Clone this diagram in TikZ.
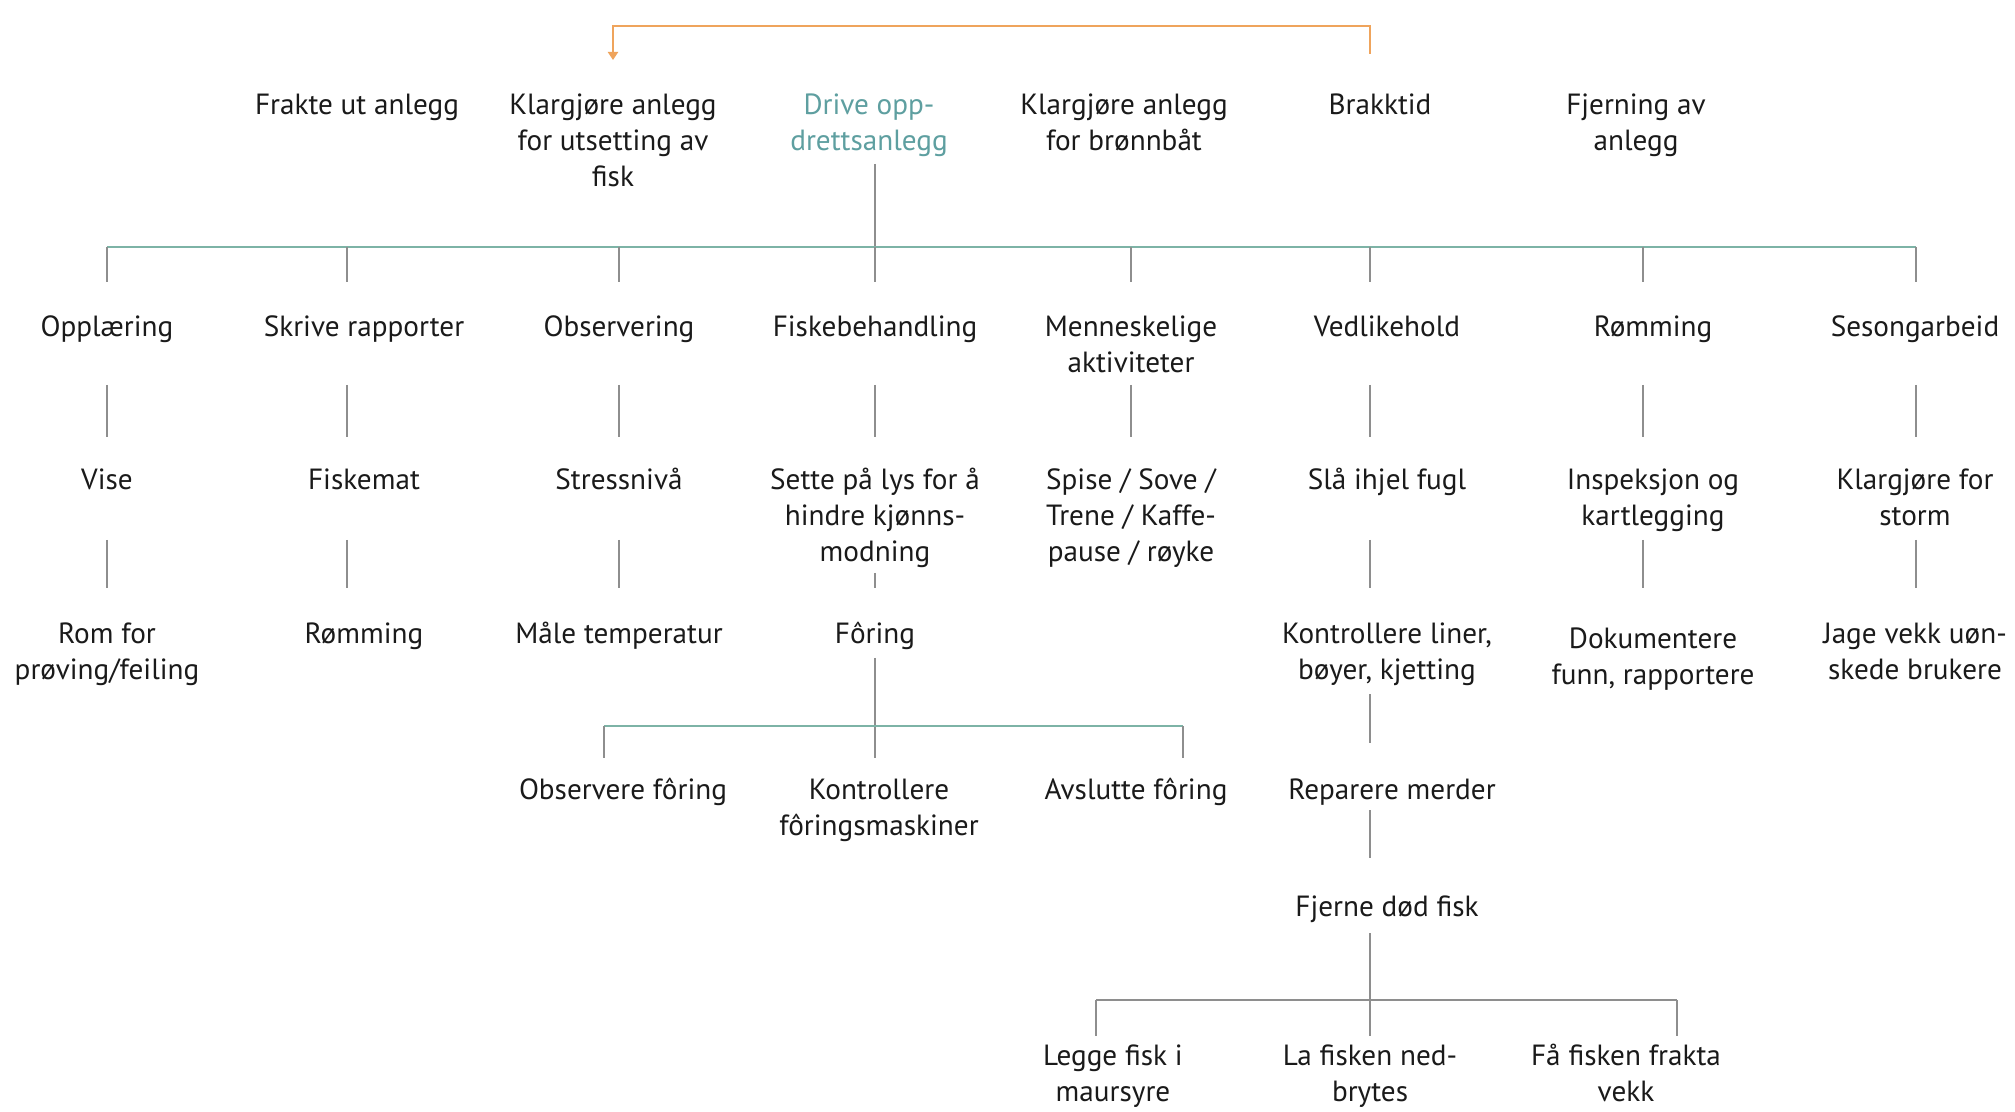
\documentclass[tikz,border=0pt]{standalone}
\usepackage{fontspec}
\setmainfont{PT Sans}
\usetikzlibrary{arrows.meta}
\definecolor{tealbar}{HTML}{7DB3A6}
\definecolor{tealtext}{HTML}{5E9FA0}
\definecolor{vgrey}{HTML}{8E8E8E}
\definecolor{orangeline}{HTML}{EFA45C}
\definecolor{txt}{HTML}{1A1A1A}
\newcommand{\fr}{\rule{0pt}{13pt}}
\begin{document}
\begin{tikzpicture}[x=0.5pt,y=-0.5pt,
  lbl/.style={anchor=north,align=center,inner sep=0pt,text=txt,yshift=-1.5pt,
    font=\fontsize{14.6pt}{18pt}\selectfont},
  vl/.style={draw=vgrey,line width=0.75pt},
  bar/.style={draw=tealbar,line width=1.2pt},
  gbar/.style={draw=vgrey,line width=1.2pt},
  obar/.style={draw=orangeline,line width=1.2pt}]
\useasboundingbox[fill=white] (0,0) rectangle (2015,1112);

% column coordinates
\coordinate (k1) at (107,0);
\coordinate (k2) at (347,0);
\coordinate (k3) at (619,0);
\coordinate (k4) at (875,0);
\coordinate (k5) at (1131,0);
\coordinate (k6) at (1370,0);
\coordinate (k7) at (1643,0);
\coordinate (k8) at (1916,0);
\coordinate (kf1) at (604,0);
\coordinate (kf3) at (1183,0);
\coordinate (kb1) at (1096,0);
\coordinate (kb3) at (1677,0);
\coordinate (ko) at (613,0);
% row coordinates
\coordinate (yo) at (0,26);
\coordinate (yoL) at (0,60);
\coordinate (yoR) at (0,54);
\coordinate (yd) at (0,164);
\coordinate (ybar) at (0,247);
\coordinate (ytk) at (0,282);
\coordinate (y2a) at (0,385);
\coordinate (y2b) at (0,437);
\coordinate (y3a) at (0,540);
\coordinate (y3s) at (0,573);
\coordinate (y3b) at (0,588);
\coordinate (yfa) at (0,658);
\coordinate (yfbar) at (0,726);
\coordinate (yftk) at (0,758);
\coordinate (yv1a) at (0,694);
\coordinate (yv1b) at (0,743);
\coordinate (yv2a) at (0,810);
\coordinate (yv2b) at (0,858);
\coordinate (yv3a) at (0,933);
\coordinate (yvbar) at (0,1000);
\coordinate (yvtk) at (0,1036);

% top row
\node[lbl] (frakte) at (357,85) {\fr Frakte ut anlegg};
\node[lbl] (klarut) at (613,85) {\fr Klargjøre anlegg\\for utsetting av\\fisk};
\node[lbl,text=tealtext] (drive) at (869,85) {\fr Drive opp-\\drettsanlegg};
\node[lbl] (klarbr) at (1124,85) {\fr Klargjøre anlegg\\for brønnbåt};
\node[lbl] (brakk) at (1380,85) {\fr Brakktid};
\node[lbl] (fjern) at (1636,85) {\fr Fjerning av\\anlegg};

% level 2
\node[lbl] (oppl) at (107,307) {\fr Opplæring};
\node[lbl] (skriv) at (364,307) {\fr Skrive rapporter};
\node[lbl] (obs) at (619,307) {\fr Observering};
\node[lbl] (fiskb) at (875,307) {\fr Fiskebehandling};
\node[lbl] (menn) at (1131,307) {\fr Menneskelige\\aktiviteter};
\node[lbl] (vedl) at (1387,307) {\fr Vedlikehold};
\node[lbl] (romm) at (1653,307) {\fr Rømming};
\node[lbl] (seso) at (1915,307) {\fr Sesongarbeid};

% level 3
\node[lbl] (vise) at (107,460) {\fr Vise};
\node[lbl] (fmat) at (364,460) {\fr Fiskemat};
\node[lbl] (stress) at (619,460) {\fr Stressnivå};
\node[lbl] (sette) at (875,460) {\fr Sette på lys for å\\hindre kjønns-\\modning};
\node[lbl] (spise) at (1131,460) {\fr Spise / Sove /\\Trene / Kaffe-\\pause / røyke};
\node[lbl] (sla) at (1387,460) {\fr Slå ihjel fugl};
\node[lbl] (insp) at (1653,460) {\fr Inspeksjon og\\kartlegging};
\node[lbl] (klarst) at (1915,460) {\fr Klargjøre for\\storm};

% level 4
\node[lbl] (rom) at (107,614) {\fr Rom for\\prøving/feiling};
\node[lbl] (romm2) at (364,614) {\fr Rømming};
\node[lbl] (male) at (619,614) {\fr Måle temperatur};
\node[lbl] (foring) at (875,614) {\fr Fôring};
\node[lbl] (kontl) at (1387,614) {\fr Kontrollere liner,\\bøyer, kjetting};
\node[lbl] (dok) at (1653,619) {\fr Dokumentere\\funn, rapportere};
\node[lbl] (jage) at (1915,614) {\fr Jage vekk uøn-\\skede brukere};

% level 5
\node[lbl] (obsf) at (623,770) {\fr Observere fôring};
\node[lbl] (kontf) at (879,770) {\fr Kontrollere\\fôringsmaskiner};
\node[lbl] (avsl) at (1136,770) {\fr Avslutte fôring};
\node[lbl] (rep) at (1392,770) {\fr Reparere merder};
\node[lbl] (fdf) at (1387,887) {\fr Fjerne død fisk};

% bottom
\node[lbl] (legg) at (1113,1036) {\fr Legge fisk i\\maursyre};
\node[lbl] (lafi) at (1370,1036) {\fr La fisken ned-\\brytes};
\node[lbl] (fafi) at (1626,1036) {\fr Få fisken frakta\\vekk};

% orange link
\draw[obar,-{Triangle[width=5pt,length=4pt]}] (k6|-yoR) -- (k6|-yo) -- (ko|-yo) -- (ko|-yoL);

% main bar
\draw[vl] (k4|-yd) -- (k4|-ybar);
\draw[bar] (k1|-ybar) -- (k8|-ybar);
\foreach \k in {k1,k2,k3,k4,k5,k6,k7,k8}{
  \draw[vl] (\k|-ybar) -- (\k|-ytk);
}
% level 2 -> 3
\foreach \k in {k1,k2,k3,k4,k5,k6,k7,k8}{
  \draw[vl] (\k|-y2a) -- (\k|-y2b);
}
% level 3 -> 4
\foreach \k in {k1,k2,k3,k6,k7,k8}{
  \draw[vl] (\k|-y3a) -- (\k|-y3b);
}
\draw[vl] (k4|-y3s) -- (k4|-y3b);

% foring branch
\draw[vl] (k4|-yfa) -- (k4|-yftk);
\draw[bar] (kf1|-yfbar) -- (kf3|-yfbar);
\draw[vl] (kf1|-yfbar) -- (kf1|-yftk);
\draw[vl] (kf3|-yfbar) -- (kf3|-yftk);

% vedlikehold column
\draw[vl] (k6|-yv1a) -- (k6|-yv1b);
\draw[vl] (k6|-yv2a) -- (k6|-yv2b);
\draw[vl] (k6|-yv3a) -- (k6|-yvtk);
\draw[gbar] (kb1|-yvbar) -- (kb3|-yvbar);
\draw[vl] (kb1|-yvbar) -- (kb1|-yvtk);
\draw[vl] (kb3|-yvbar) -- (kb3|-yvtk);
\end{tikzpicture}
\end{document}
